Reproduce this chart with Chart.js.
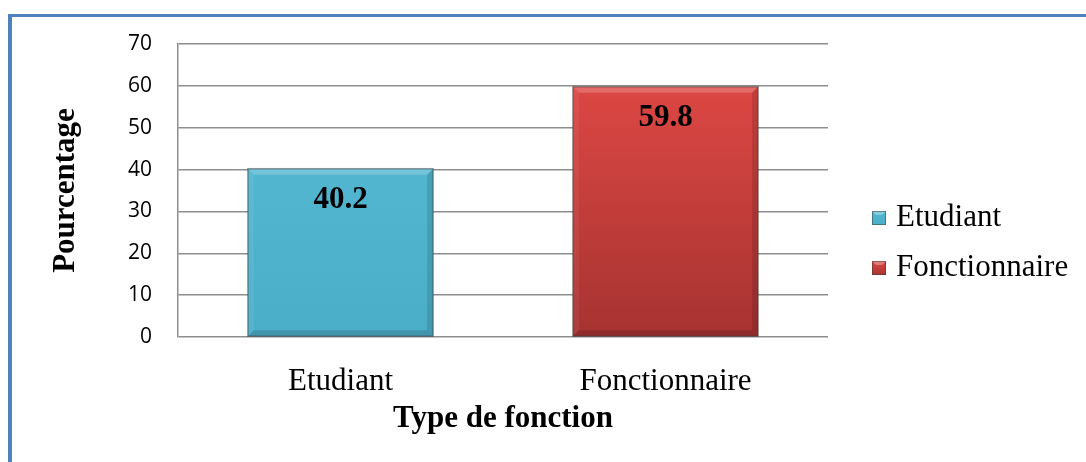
<!DOCTYPE html>
<html>
<head>
<meta charset="utf-8">
<script src="https://cdn.jsdelivr.net/npm/chart.js@4.4.0/dist/chart.umd.min.js"></script>
<style>
  html, body { margin: 0; padding: 0; background: #fff; }
  #wrap { position: relative; width: 1086px; height: 462px; overflow: hidden; }
  #frame { position: absolute; left: 8px; top: 14px; right: -10px; bottom: -10px;
           border-left: 4px solid #4F81BD; border-top: 3px solid #4F81BD; pointer-events: none; }
  canvas { position: absolute; left: 0; top: 0; }
</style>
</head>
<body>
<div id="wrap">
  <canvas id="chart" width="1086" height="462"></canvas>
  <div id="frame"></div>
</div>
<script>
// data
var categories = ['Etudiant', 'Fonctionnaire'];
var percentages = [40.2, 59.8];
var yTicks = [0, 10, 20, 30, 40, 50, 60, 70];

// colours: [top, bottom] of each bar
var barColors = [
  ['#52B6D1', '#4BAEC9'],
  ['#DC4743', '#A63331']
];

var serif = '"Liberation Serif", "Times New Roman", serif';
var gridGray = '#8E8E8E';

function barFill(c) {
  var chart = c.chart;
  var cols = barColors[c.dataIndex];
  if (!chart.chartArea || !chart.scales.y) return cols[0];
  var y = chart.scales.y;
  var top = y.getPixelForValue(percentages[c.dataIndex]);
  var bottom = y.getPixelForValue(0);
  var g = chart.ctx.createLinearGradient(0, top, 0, bottom);
  g.addColorStop(0, cols[0]);
  g.addColorStop(1, cols[1]);
  return g;
}

// bevel edges on the bars, like the office 3D style
var bevelPlugin = {
  id: 'bevel',
  afterDatasetsDraw: function(chart) {
    var ctx = chart.ctx;
    var meta = chart.getDatasetMeta(0);
    meta.data.forEach(function(bar) {
      var l = bar.x - bar.width / 2, r = bar.x + bar.width / 2;
      var t = bar.y, b = bar.base, s = 6;
      ctx.save();
      ctx.fillStyle = 'rgba(255,255,255,0.2)';
      ctx.beginPath();
      ctx.moveTo(l, t); ctx.lineTo(r, t); ctx.lineTo(r - s, t + s); ctx.lineTo(l + s, t + s);
      ctx.closePath(); ctx.fill();
      ctx.fillStyle = 'rgba(255,255,255,0.06)';
      ctx.beginPath();
      ctx.moveTo(l, t); ctx.lineTo(l + s, t + s); ctx.lineTo(l + s, b - s); ctx.lineTo(l, b);
      ctx.closePath(); ctx.fill();
      ctx.fillStyle = 'rgba(0,0,0,0.12)';
      ctx.beginPath();
      ctx.moveTo(r, t); ctx.lineTo(r - s, t + s); ctx.lineTo(r - s, b - s); ctx.lineTo(r, b);
      ctx.closePath(); ctx.fill();
      ctx.fillStyle = 'rgba(0,0,0,0.14)';
      ctx.beginPath();
      ctx.moveTo(l, b); ctx.lineTo(l + s, b - s); ctx.lineTo(r - s, b - s); ctx.lineTo(r, b);
      ctx.closePath(); ctx.fill();
      ctx.strokeStyle = 'rgba(60,60,60,0.5)';
      ctx.lineWidth = 1.5;
      ctx.strokeRect(l, t, r - l, b - t);
      ctx.restore();
    });
  }
};

// value labels inside the top of each bar
var valueLabels = {
  id: 'valueLabels',
  afterDatasetsDraw: function(chart) {
    var ctx = chart.ctx;
    var meta = chart.getDatasetMeta(0);
    ctx.save();
    ctx.font = 'bold 31px ' + serif;
    ctx.fillStyle = '#000';
    ctx.textAlign = 'center';
    ctx.textBaseline = 'middle';
    meta.data.forEach(function(bar, i) {
      ctx.fillText(percentages[i].toFixed(1), bar.x, bar.y + 31);
    });
    ctx.restore();
  }
};

// legend on the right
var sideLegend = {
  id: 'sideLegend',
  afterDraw: function(chart) {
    var ctx = chart.ctx;
    var x = chart.chartArea.right + 44;
    var y0 = 226, step = 50;
    ctx.save();
    ctx.font = '31px ' + serif;
    ctx.textBaseline = 'alphabetic';
    ctx.textAlign = 'left';
    categories.forEach(function(name, i) {
      var y = y0 + i * step;
      var g = ctx.createLinearGradient(0, y - 15, 0, y);
      g.addColorStop(0, barColors[i][0]);
      g.addColorStop(1, barColors[i][1]);
      ctx.fillStyle = g;
      ctx.fillRect(x, y - 15, 14, 14);
      ctx.fillStyle = 'rgba(255,255,255,0.3)';
      ctx.beginPath();
      ctx.moveTo(x, y - 15); ctx.lineTo(x + 14, y - 15); ctx.lineTo(x + 10, y - 11); ctx.lineTo(x + 4, y - 11);
      ctx.closePath(); ctx.fill();
      ctx.strokeStyle = 'rgba(60,60,60,0.5)';
      ctx.lineWidth = 1;
      ctx.strokeRect(x + 0.5, y - 14.5, 13, 13);
      ctx.fillStyle = '#000';
      ctx.fillText(name, x + 24, y);
    });
    ctx.restore();
  }
};

var ctxBar = document.querySelector('#chart').getContext('2d');

var typeChart = new Chart(ctxBar, {
  type: 'bar',
  data: {
    labels: categories,
    datasets: [{
      label: 'Pourcentage',
      data: percentages,
      backgroundColor: barFill,
      borderWidth: 0,
      categoryPercentage: 1,
      barPercentage: 0.57
    }]
  },
  options: {
    responsive: false,
    animation: false,
    devicePixelRatio: 1,
    layout: { padding: { left: 0, right: 258, top: 44, bottom: 0 } },
    plugins: {
      legend: { display: false },
      tooltip: { enabled: false }
    },
    scales: {
      x: {
        grid: { display: false },
        border: { display: false },
        ticks: { color: '#000', font: { family: serif, size: 31 }, padding: 18, maxRotation: 0 },
        title: {
          display: true,
          text: 'Type de fonction',
          color: '#000',
          font: { family: serif, size: 31, weight: 'bold' },
          padding: { top: 0, bottom: 24 }
        },
        afterFit: function(s) { s.height = 125; }
      },
      y: {
        min: 0,
        max: 70,
        afterBuildTicks: function(s) { s.ticks = yTicks.map(function(v) { return { value: v }; }); },
        grid: { color: gridGray, lineWidth: 1.5, drawTicks: false },
        border: { display: true, color: gridGray, width: 1.5 },
        ticks: { color: '#000', font: { family: '"Open Sans", sans-serif', size: 21 }, padding: 26 },
        title: {
          display: true,
          text: 'Pourcentage',
          color: '#000',
          font: { family: serif, size: 31, weight: 'bold' },
          padding: { top: 47, bottom: 0 }
        },
        afterFit: function(s) { s.width = 178; }
      }
    }
  },
  plugins: [bevelPlugin, valueLabels, sideLegend]
});
</script>
</body>
</html>
